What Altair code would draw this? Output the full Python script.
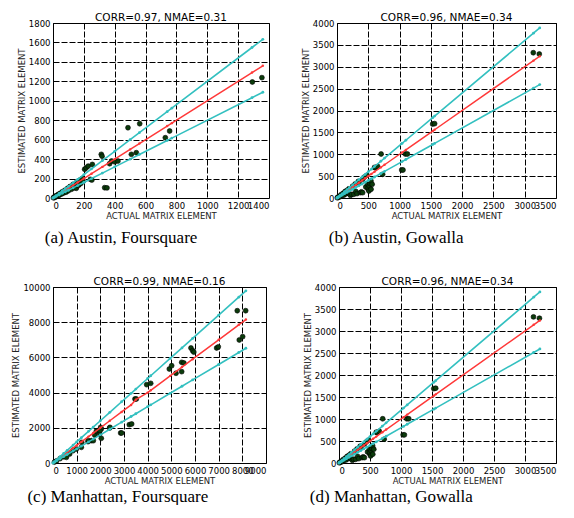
import altair as alt
import pandas as pd

# ---------------- data ----------------
# (a) Austin, Foursquare
a_actual = [3, 6, 10, 12, 18, 22, 28, 35, 40, 48, 55, 62, 70, 78, 85, 95, 100, 108, 110, 120, 130, 140, 151, 155,
            165, 170, 175, 180, 190, 195, 205, 215, 228, 242, 252, 255, 313, 318, 335, 350, 367, 380, 400, 421,
            486, 562, 508, 540, 728, 756, 1292, 1354]
a_est = [2, 8, 5, 14, 12, 25, 20, 38, 28, 50, 40, 66, 52, 80, 60, 100, 75, 106, 118, 90, 140, 105, 100, 165,
         130, 140, 185, 150, 200, 170, 295, 310, 328, 192, 185, 345, 449, 430, 106, 104, 353, 380, 372, 380,
         723, 764, 449, 466, 620, 689, 1193, 1238]
a_line_x = [0, 10, 20, 40, 60, 80, 100, 130, 160, 200, 250, 320, 400, 500, 560, 740, 770, 1290, 1360]
a_line_mid = [0, 10, 20, 40, 60, 80, 100, 130, 160, 200, 250, 320, 400, 500, 560, 740, 770, 1290, 1360]
a_line_up = [0, 12, 24, 48, 72, 96, 120, 156, 192, 240, 300, 384, 480, 600, 672, 888, 924, 1548, 1632]
a_line_lo = [0, 8, 16, 32, 48, 64, 80, 104, 128, 160, 200, 256, 320, 400, 448, 592, 616, 1032, 1088]
a_xticks = [0, 200, 400, 600, 800, 1000, 1200, 1400]
a_yticks = [0, 200, 400, 600, 800, 1000, 1200, 1400, 1600, 1800]

# (b) Austin, Gowalla  /  (d) Manhattan, Gowalla
b_actual = [5, 15, 25, 40, 55, 70, 85, 100, 115, 130, 145, 160, 175, 190, 200, 215, 235, 250, 269, 290, 300, 320,
            340, 357, 373, 390, 410, 410, 440, 460, 480, 490, 498, 500, 510, 517, 530, 543, 545, 562, 600, 612,
            650, 705, 729, 1034, 1055, 1093, 1125, 1529, 1560, 3137, 3233]
b_est = [5, 20, 15, 45, 35, 80, 60, 110, 70, 150, 100, 175, 120, 210, 90, 60, 84, 270, 84, 320, 150, 100,
         380, 350, 122, 140, 430, 122, 480, 250, 520, 313, 198, 235, 160, 280, 330, 389, 200, 313, 700, 693,
         720, 1005, 541, 640, 640, 1005, 1005, 1690, 1700, 3321, 3290]
b_line_x = [0, 10, 25, 50, 80, 120, 160, 200, 250, 300, 350, 400, 450, 500, 550, 600, 700, 760, 1040, 1100,
            1530, 1560, 3140, 3240]
b_line_mid = [0, 10, 25, 50, 80, 120, 160, 200, 250, 300, 350, 400, 450, 500, 550, 600, 700, 760, 1040, 1100,
              1530, 1560, 3140, 3240]
b_line_up = [0, 12, 30, 60, 96, 144, 192, 240, 300, 360, 420, 480, 540, 600, 660, 720, 840, 912, 1248, 1320,
             1836, 1872, 3768, 3888]
b_line_lo = [0, 8, 20, 40, 64, 96, 128, 160, 200, 240, 280, 320, 360, 400, 440, 480, 560, 608, 832, 880,
             1224, 1248, 2512, 2592]
b_xticks = [0, 500, 1000, 1500, 2000, 2500, 3000, 3500]
b_yticks = [0, 500, 1000, 1500, 2000, 2500, 3000, 3500, 4000]

# (c) Manhattan, Foursquare
c_actual = [60, 150, 300, 450, 565, 704, 845, 986, 1197, 1213, 1479, 1493, 1620, 1704, 1760, 1830, 1971, 2013,
            2041, 2041, 1985, 2393, 2408, 2858, 2900, 3225, 3324, 3464, 3520, 3959, 4128, 4915, 5014, 5197,
            5437, 5437, 5530, 5830, 5900, 5950, 6915, 6985, 7786, 8141, 7871, 8013]
c_est = [50, 120, 250, 350, 320, 511, 700, 795, 890, 1174, 1212, 1269, 1269, 1269, 1591, 1800, 1648, 2027,
         1932, 1402, 1839, 1989, 2027, 1705, 1705, 2178, 2216, 3636, 3636, 4451, 4527, 5341, 5530, 5097,
         5190, 5720, 5680, 6534, 6382, 6300, 6534, 6600, 8653, 8653, 6989, 7178]
c_line_x = [0, 60, 150, 300, 450, 600, 850, 1000, 1200, 1500, 1700, 2000, 2400, 2900, 3300, 3500, 4000, 4130,
            4950, 5450, 5900, 7000, 7850, 8150]
c_line_mid = [0, 60, 150, 300, 450, 600, 850, 1000, 1200, 1500, 1700, 2000, 2400, 2900, 3300, 3600, 4000, 4130,
              4950, 5450, 5900, 7000, 7850, 8150]
c_line_up = [0, 72, 180, 360, 540, 720, 1020, 1200, 1440, 1800, 2040, 2400, 2880, 3480, 3960, 4200, 4800, 4956,
             5940, 6540, 7080, 8400, 9420, 9780]
c_line_lo = [0, 48, 120, 240, 360, 480, 680, 800, 960, 1200, 1360, 1600, 1920, 2320, 2640, 2800, 3200, 3304,
             3960, 4360, 4720, 5600, 6280, 6520]
c_xticks = [0, 1000, 2000, 3000, 4000, 5000, 6000, 7000, 8000, 9000]
c_yticks = [0, 2000, 4000, 6000, 8000, 10000]

titles = ["CORR=0.97, NMAE=0.31", "CORR=0.96, NMAE=0.34", "CORR=0.99, NMAE=0.16", "CORR=0.96, NMAE=0.34"]
captions = ["(a)  Austin, Foursquare", "(b)  Austin, Gowalla", "(c)  Manhattan, Foursquare", "(d)  Manhattan, Gowalla"]

CYAN = "#33c0c0"
RED = "#ff3838"
DOT = "#0b3b0b"


def make_panel(px, py, lx, lo, mid, up, xticks, yticks, w, h, title, caption, cap_dx, cap_offset):
    pts = pd.DataFrame({"actual": px, "estimated": py})
    red = pd.DataFrame({"actual": lx, "estimated": mid})
    cy = pd.DataFrame({"actual": lx + lx, "estimated": up + lo,
                       "band": ["upper"] * len(lx) + ["lower"] * len(lx)})
    xsc = alt.Scale(domain=[xticks[0], xticks[-1]], nice=False)
    ysc = alt.Scale(domain=[yticks[0], yticks[-1]], nice=False)
    xax = alt.Axis(values=xticks, format="d", title="ACTUAL MATRIX ELEMENT", labelOverlap=False)
    yax = alt.Axis(values=yticks, format="d", title="ESTIMATED MATRIX ELEMENT", labelOverlap=False)
    X = alt.X("actual:Q", scale=xsc, axis=xax)
    Y = alt.Y("estimated:Q", scale=ysc, axis=yax)
    p = alt.Chart(pts).mark_circle(size=24, color=DOT, stroke="#000000", strokeWidth=0.6,
                                   opacity=1).encode(x=X, y=Y)
    r = alt.Chart(red).mark_line(color=RED, strokeWidth=1.5,
                                 point=alt.OverlayMarkDef(color=RED, size=6, filled=True, opacity=1)
                                 ).encode(x=X, y=Y)
    c = alt.Chart(cy).mark_line(color=CYAN, strokeWidth=1.6,
                                point=alt.OverlayMarkDef(color=CYAN, size=8, filled=True, opacity=1)
                                ).encode(x=X, y=Y, detail="band:N")
    layer = alt.layer(p, r, c).properties(
        width=w, height=h,
        title=alt.TitleParams(title, font="DejaVu Sans", fontSize=10.5, fontWeight="normal",
                              color="#000000", offset=-4))
    return alt.vconcat(layer).properties(
        title=alt.TitleParams(caption, orient="bottom", anchor="start", dx=cap_dx, offset=cap_offset,
                              font="Liberation Serif", fontSize=17, fontWeight="normal",
                              color="#000000"))


pa = make_panel(a_actual, a_est, a_line_x, a_line_lo, a_line_mid, a_line_up, a_xticks, a_yticks,
                216, 175, titles[0], captions[0], 28, 9)
pb = make_panel(b_actual, b_est, b_line_x, b_line_lo, b_line_mid, b_line_up, b_xticks, b_yticks,
                219, 175, titles[1], captions[1], 28, 9)
pc = make_panel(c_actual, c_est, c_line_x, c_line_lo, c_line_mid, c_line_up, c_xticks, c_yticks,
                213, 176, titles[2], captions[2], 16, 3)
pd_ = make_panel(b_actual, b_est, b_line_x, b_line_lo, b_line_mid, b_line_up, b_xticks, b_yticks,
                 217, 176, titles[3], captions[3], 7, 3)

chart = alt.vconcat(
    alt.hconcat(pa, pb, spacing=30),
    alt.hconcat(pc, pd_, spacing=35),
    spacing=30,
).properties(
    padding={"left": 3, "top": 4, "right": 0, "bottom": 0}
).configure_view(
    stroke="#000000", strokeWidth=1
).configure_axis(
    labelFont="DejaVu Sans", labelFontSize=8.5, labelColor="#000000", labelPadding=3,
    titleFont="DejaVu Sans", titleFontSize=8.5, titleFontWeight="normal", titleColor="#222222",
    titlePadding=2, grid=True, gridColor="#000000", gridDash=[6, 2], gridOpacity=1, gridWidth=1,
    domain=False, ticks=False
).configure_concat(spacing=30)

chart.save("out.html", embed_options={"renderer": "svg", "actions": False})
